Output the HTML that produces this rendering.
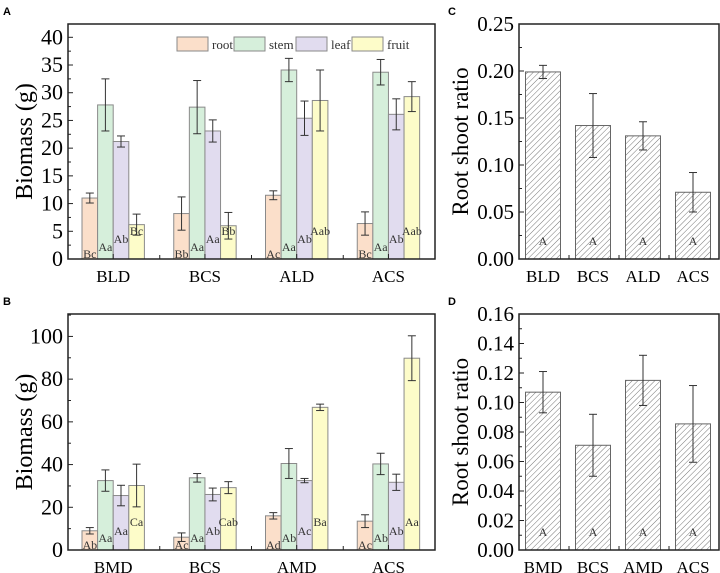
<!DOCTYPE html>
<html><head><meta charset="utf-8"><style>
body{margin:0;background:#fff;}
svg{display:block;font-family:"Liberation Serif",serif;}
</style></head><body>
<svg id="s" width="720" height="573" viewBox="0 0 720 573">
<defs><pattern id="hatch" patternUnits="userSpaceOnUse" width="4" height="4" patternTransform="rotate(45)"><rect width="4" height="4" fill="#fff"/><line x1="0" y1="0" x2="0" y2="4" stroke="#777" stroke-width="1"/></pattern></defs>
<text x="3" y="15" font-family="Liberation Sans,sans-serif" font-weight="bold" font-size="11">A</text>
<text x="3" y="305" font-family="Liberation Sans,sans-serif" font-weight="bold" font-size="11">B</text>
<text x="448" y="15" font-family="Liberation Sans,sans-serif" font-weight="bold" font-size="11">C</text>
<text x="448" y="305" font-family="Liberation Sans,sans-serif" font-weight="bold" font-size="11">D</text>
</svg>
<script>
const seriesNames=["root","stem","leaf","fruit"];
const catsA=["BLD","BCS","ALD","ACS"];
const rootA=[11,8.2,11.5,6.4], rootErrA=[0.9,3,0.8,2.1];
const stemA=[27.8,27.4,34.1,33.7], stemErrA=[4.7,4.8,2.1,2.3];
const leafA=[21.2,23.1,25.4,26.1], leafErrA=[1,2,3.1,2.8];
const fruitA=[6.2,6,28.6,29.3], fruitErrA=[1.9,2.4,5.5,2.7];
const lblA=[["Bc","Bb","Ac","Bc"],["Aa","Aa","Aa","Aa"],["Ab","Aa","Ab","Ab"],["Bc","Bb","Aab","Aab"]];
const ticksA=[0,5,10,15,20,25,30,35,40];
const catsB=["BMD","BCS","AMD","ACS"];
const rootB=[9,6,16,13.5], rootErrB=[1.5,2,1.5,3];
const stemB=[32.5,33.8,40.5,40.3], stemErrB=[5,2,7,5];
const leafB=[25.5,26,32.5,31.7], leafErrB=[4.8,3,1,3.8];
const fruitB=[30.2,29.2,66.8,89.8], fruitErrB=[10,2.8,1.5,10.5];
const lblB=[["Ab","Ac","Ad","Ac"],["Aa","Aa","Ab","Ab"],["Aa","Ab","Ac","Ab"],["Ca","Cab","Ba","Aa"]];
const ticksB=[0,20,40,60,80,100];
const ratioC=[0.199,0.142,0.131,0.071], ratioErrC=[0.007,0.034,0.015,0.021];
const ticksC=[0,0.05,0.10,0.15,0.20,0.25];
const ratioD=[0.107,0.071,0.115,0.0855], ratioErrD=[0.014,0.021,0.017,0.026];
const ticksD=[0,0.02,0.04,0.06,0.08,0.10,0.12,0.14,0.16];
const lblCD=["A","A","A","A"];

const NS="http://www.w3.org/2000/svg", svg=document.getElementById("s");
const colors=["#fbdfca","#d6efdb","#e1dcef","#fdfcc9"];
function mk(t,a,p){const e=document.createElementNS(NS,t);for(const k in a)e.setAttribute(k,a[k]);(p||svg).appendChild(e);return e;}
function axes(x0,x1,y0,y1,ymax,ticks,dec,minorN,cats,title,tfs,name){
  const g=mk("g",{});
  
  
  const Y=v=>y1-(v/ymax)*(y1-y0);
  const step=ticks[1]-ticks[0];
  for(let i=0;i<ticks.length;i++){
    mk("line",{x1:x0,x2:x0+5,y1:Y(ticks[i]),y2:Y(ticks[i]),stroke:"#222"},g);
    const l=mk("text",{x:x0-5,y:Y(ticks[i])+7,"text-anchor":"end","font-size":tfs},g);
    l.textContent=dec?ticks[i].toFixed(dec):ticks[i];
    
    
    for(let m=1;m<minorN;m++){const v=ticks[i]+step*m/minorN;if(v<ymax)mk("line",{x1:x0,x2:x0+3,y1:Y(v),y2:Y(v),stroke:"#222"},g);}
  }
  const yt=mk("text",{x:0,y:0,"text-anchor":"middle","font-size":tfs+2,transform:`translate(${name.includes("ratio")?468:32},${(y0+y1)/2}) rotate(-90)`},g);
  yt.textContent=title;
  
  
  return {Y,g};
}
function frame(x0,x1,y0,y1,g){mk("rect",{x:x0,y:y0,width:x1-x0,height:y1-y0,fill:"none",stroke:"#222","stroke-width":1.5},g);}
function errbar(cx,v,e,Y,g){
  mk("line",{x1:cx,x2:cx,y1:Y(v+e),y2:Y(v-e),stroke:"#333"},g);
  mk("line",{x1:cx-4,x2:cx+4,y1:Y(v+e),y2:Y(v+e),stroke:"#333"},g);
  mk("line",{x1:cx-4,x2:cx+4,y1:Y(v-e),y2:Y(v-e),stroke:"#333"},g);
}
function grouped(x0,x1,y0,y1,ymax,ticks,minorN,cats,series,errs,lbls,lblY,name){
  const {Y,g}=axes(x0,x1,y0,y1,ymax,ticks,0,minorN,cats,"Biomass (g)",22,name);
  const gw=(x1-x0)/cats.length, bw=15.6;
  for(let c=0;c<cats.length;c++){
    const gs=x0+14+c*gw;
    for(let s=0;s<4;s++){
      const bx=gs+s*bw, v=series[s][c];
      const r=mk("rect",{x:bx,y:Y(v),width:bw,height:Y(0)-Y(v),fill:colors[s],stroke:"#8a8a8a"},g);
      
      
      errbar(bx+bw/2,v,errs[s][c],Y,g);
      const t=mk("text",{x:bx+bw/2,y:lblY[s],"text-anchor":"middle","font-size":12,fill:"#333"},g);
      t.textContent=lbls[s][c];
      
      
    }
    const cl=mk("text",{x:gs+2*bw,y:y1+23,"text-anchor":"middle","font-size":17},g);
    cl.textContent=cats[c];
    
    
    if(c>0)mk("line",{x1:x0+c*gw,x2:x0+c*gw,y1:y1,y2:y1-4,stroke:"#222"},g);
    mk("line",{x1:gs+2*bw,x2:gs+2*bw,y1:y1,y2:y1-5,stroke:"#222"},g);
  }
  frame(x0,x1,y0,y1,g);
  return g;
}
grouped(68,435,24,259,42.4,ticksA,2,catsA,[rootA,stemA,leafA,fruitA],[rootErrA,stemErrA,leafErrA,fruitErrA],lblA,[258,251,243,235],"chart-a-biomass");
const legX=[177,234,296,352];
for(let s=0;s<4;s++){
  const lg=mk("g",{});
  
  
  mk("rect",{x:legX[s],y:37,width:31,height:14,fill:colors[s],stroke:"#8a8a8a"},lg);
  const t=mk("text",{x:legX[s]+35,y:49,"font-size":13,fill:"#333"},lg);
  t.textContent=seriesNames[s];
}
grouped(68,435,314,550,110.5,ticksB,2,catsB,[rootB,stemB,leafB,fruitB],[rootErrB,stemErrB,leafErrB,fruitErrB],lblB,[549,542,535,526],"chart-b-biomass");
function single(x0,x1,y0,y1,ymax,ticks,dec,cats,vals,errs,name){
  const {Y,g}=axes(x0,x1,y0,y1,ymax,ticks,dec,2,cats,"Root shoot ratio",21,name);
  const gw=(x1-x0)/cats.length, bw=35;
  for(let c=0;c<cats.length;c++){
    const cx=x0+gw*(c+0.5)-1;
    const r=mk("rect",{x:cx-bw/2,y:Y(vals[c]),width:bw,height:Y(0)-Y(vals[c]),fill:"url(#hatch)",stroke:"#666"},g);
    
    
    errbar(cx,vals[c],errs[c],Y,g);
    const t=mk("text",{x:cx,y:y1-14,"text-anchor":"middle","font-size":12,fill:"#333"},g);
    t.textContent=lblCD[c];
    
    
    const cl=mk("text",{x:cx,y:y1+23,"text-anchor":"middle","font-size":17},g);
    cl.textContent=cats[c];
    
    
    if(c>0)mk("line",{x1:x0+c*gw,x2:x0+c*gw,y1:y1,y2:y1-4,stroke:"#222"},g);
  }
  frame(x0,x1,y0,y1,g);
}
single(519,719,24,259,0.25,ticksC,2,catsA,ratioC,ratioErrC,"chart-c-ratio");
single(519,719,314,550,0.16,ticksD,2,catsB,ratioD,ratioErrD,"chart-d-ratio");
</script>
</body></html>
